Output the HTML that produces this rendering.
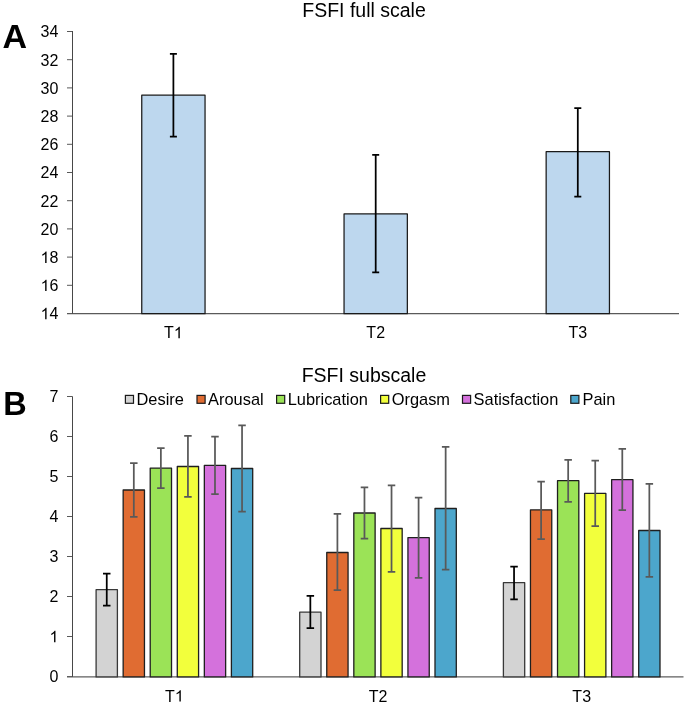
<!DOCTYPE html><html><head><meta charset="utf-8"><style>html,body{margin:0;padding:0;background:#fff;width:685px;height:704px;overflow:hidden}svg{display:block;will-change:transform}text{font-family:"Liberation Sans",sans-serif}</style></head><body>
<svg width="685" height="704" viewBox="0 0 685 704">
<rect width="685" height="704" fill="#fff"/>
<text x="364" y="17.2" font-size="19.5" text-anchor="middle" fill="#000">FSFI full scale</text>
<text x="2.5" y="48.3" font-size="34" font-weight="bold" fill="#000">A</text>
<line x1="67" y1="313.5" x2="72.5" y2="313.5" stroke="#595959" stroke-width="1"/>
<path d="M46.56 319.30H45.16V310.34Q44.65 310.82 43.82 311.31Q42.99 311.79 42.34 312.03V310.68Q43.52 310.12 44.40 309.33Q45.28 308.54 45.65 307.85H46.56Z" fill="#000"/><text x="49.50" y="319.30" font-size="16" fill="#000">4</text>
<line x1="67" y1="285.3" x2="72.5" y2="285.3" stroke="#595959" stroke-width="1"/>
<path d="M46.56 291.10H45.16V282.14Q44.65 282.62 43.82 283.11Q42.99 283.59 42.34 283.83V282.48Q43.52 281.92 44.40 281.13Q45.28 280.34 45.65 279.65H46.56Z" fill="#000"/><text x="49.50" y="291.10" font-size="16" fill="#000">6</text>
<line x1="67" y1="257.1" x2="72.5" y2="257.1" stroke="#595959" stroke-width="1"/>
<path d="M46.56 262.90H45.16V253.94Q44.65 254.42 43.82 254.91Q42.99 255.39 42.34 255.63V254.28Q43.52 253.72 44.40 252.93Q45.28 252.14 45.65 251.45H46.56Z" fill="#000"/><text x="49.50" y="262.90" font-size="16" fill="#000">8</text>
<line x1="67" y1="228.9" x2="72.5" y2="228.9" stroke="#595959" stroke-width="1"/>
<text x="40.60" y="234.70" font-size="16" fill="#000">20</text>
<line x1="67" y1="200.7" x2="72.5" y2="200.7" stroke="#595959" stroke-width="1"/>
<text x="40.60" y="206.50" font-size="16" fill="#000">22</text>
<line x1="67" y1="172.5" x2="72.5" y2="172.5" stroke="#595959" stroke-width="1"/>
<text x="40.60" y="178.30" font-size="16" fill="#000">24</text>
<line x1="67" y1="144.3" x2="72.5" y2="144.3" stroke="#595959" stroke-width="1"/>
<text x="40.60" y="150.10" font-size="16" fill="#000">26</text>
<line x1="67" y1="116.1" x2="72.5" y2="116.1" stroke="#595959" stroke-width="1"/>
<text x="40.60" y="121.90" font-size="16" fill="#000">28</text>
<line x1="67" y1="87.9" x2="72.5" y2="87.9" stroke="#595959" stroke-width="1"/>
<text x="40.60" y="93.70" font-size="16" fill="#000">30</text>
<line x1="67" y1="59.70000000000002" x2="72.5" y2="59.70000000000002" stroke="#595959" stroke-width="1"/>
<text x="40.60" y="65.50" font-size="16" fill="#000">32</text>
<line x1="67" y1="31.5" x2="72.5" y2="31.5" stroke="#595959" stroke-width="1"/>
<text x="40.60" y="37.30" font-size="16" fill="#000">34</text>
<line x1="67" y1="313.65" x2="679" y2="313.65" stroke="#5a5a5a" stroke-width="1.2"/>
<rect x="141.75" y="95.23" width="63.30" height="218.42" fill="#BDD7EE" stroke="#1a1a1a" stroke-width="1.25" stroke-linejoin="round"/>
<text x="164.06" y="338.30" font-size="16" fill="#000">T</text><path d="M179.80 338.30H178.39V329.34Q177.88 329.82 177.06 330.31Q176.23 330.79 175.57 331.03V329.68Q176.75 329.12 177.63 328.33Q178.52 327.54 178.88 326.85H179.80Z" fill="#000"/>
<rect x="344.05" y="213.95" width="63.30" height="99.70" fill="#BDD7EE" stroke="#1a1a1a" stroke-width="1.25" stroke-linejoin="round"/>
<text x="366.36" y="338.30" font-size="16" fill="#000">T2</text>
<rect x="546.15" y="151.63" width="63.30" height="162.02" fill="#BDD7EE" stroke="#1a1a1a" stroke-width="1.25" stroke-linejoin="round"/>
<text x="568.46" y="338.30" font-size="16" fill="#000">T3</text>
<line x1="72.5" y1="31" x2="72.5" y2="313.65" stroke="#474747" stroke-width="1"/>
<path d="M173.4 53.78 V136.54 M169.9 53.78 H176.9 M169.9 136.54 H176.9" stroke="#000" stroke-width="1.75" fill="none"/>
<path d="M375.7 154.88 V272.33 M372.2 154.88 H379.2 M372.2 272.33 H379.2" stroke="#000" stroke-width="1.75" fill="none"/>
<path d="M577.8 108.06 V196.61 M574.3 108.06 H581.3 M574.3 196.61 H581.3" stroke="#000" stroke-width="1.75" fill="none"/>
<text x="364" y="381.6" font-size="19.5" text-anchor="middle" fill="#000">FSFI subscale</text>
<text transform="translate(3.3,415) scale(0.955,1)" font-size="34" font-weight="bold" fill="#000">B</text>
<line x1="67" y1="676.5" x2="72.5" y2="676.5" stroke="#595959" stroke-width="1"/>
<text x="49.50" y="682.30" font-size="16" fill="#000">0</text>
<line x1="67" y1="636.5" x2="72.5" y2="636.5" stroke="#595959" stroke-width="1"/>
<path d="M55.46 642.30H54.06V633.34Q53.55 633.82 52.72 634.31Q51.89 634.79 51.24 635.03V633.67Q52.42 633.12 53.30 632.33Q54.18 631.54 54.55 630.85H55.46Z" fill="#000"/>
<line x1="67" y1="596.5" x2="72.5" y2="596.5" stroke="#595959" stroke-width="1"/>
<text x="49.50" y="602.30" font-size="16" fill="#000">2</text>
<line x1="67" y1="556.5" x2="72.5" y2="556.5" stroke="#595959" stroke-width="1"/>
<text x="49.50" y="562.30" font-size="16" fill="#000">3</text>
<line x1="67" y1="516.5" x2="72.5" y2="516.5" stroke="#595959" stroke-width="1"/>
<text x="49.50" y="522.30" font-size="16" fill="#000">4</text>
<line x1="67" y1="476.5" x2="72.5" y2="476.5" stroke="#595959" stroke-width="1"/>
<text x="49.50" y="482.30" font-size="16" fill="#000">5</text>
<line x1="67" y1="436.5" x2="72.5" y2="436.5" stroke="#595959" stroke-width="1"/>
<text x="49.50" y="442.30" font-size="16" fill="#000">6</text>
<line x1="67" y1="396.5" x2="72.5" y2="396.5" stroke="#595959" stroke-width="1"/>
<text x="49.50" y="402.30" font-size="16" fill="#000">7</text>
<rect x="125.4" y="395.4" width="8.1" height="7.9" fill="#D3D3D3" stroke="#1a1a1a" stroke-width="1.2"/>
<text transform="translate(136.50,405.0) scale(1.025,1)" font-size="16" fill="#000">Desire</text>
<rect x="197.0" y="395.4" width="8.1" height="7.9" fill="#E06C32" stroke="#1a1a1a" stroke-width="1.2"/>
<text transform="translate(208.10,405.0) scale(1.025,1)" font-size="16" fill="#000">Arousal</text>
<rect x="276.6" y="395.4" width="8.1" height="7.9" fill="#9BE357" stroke="#1a1a1a" stroke-width="1.2"/>
<text transform="translate(287.70,405.0) scale(1.025,1)" font-size="16" fill="#000">Lubrication</text>
<rect x="380.6" y="395.4" width="8.1" height="7.9" fill="#F2FF3C" stroke="#1a1a1a" stroke-width="1.2"/>
<text transform="translate(391.70,405.0) scale(1.025,1)" font-size="16" fill="#000">Orgasm</text>
<rect x="462.5" y="395.4" width="8.1" height="7.9" fill="#D471DC" stroke="#1a1a1a" stroke-width="1.2"/>
<text transform="translate(473.60,405.0) scale(1.025,1)" font-size="16" fill="#000">Satisfaction</text>
<rect x="570.8" y="395.4" width="8.1" height="7.9" fill="#4CA6CC" stroke="#1a1a1a" stroke-width="1.2"/>
<text transform="translate(582.50,405.0) scale(1.025,1)" font-size="16" fill="#000">Pain</text>
<line x1="67" y1="676.9" x2="683.5" y2="676.9" stroke="#5f5f5f" stroke-width="1.3"/>
<rect x="96.10" y="589.70" width="21.3" height="87.20" fill="#D3D3D3" stroke="#383838" stroke-width="1.3" stroke-linejoin="round"/>
<rect x="123.16" y="489.98" width="21.3" height="186.92" fill="#E06C32" stroke="#1f1f1f" stroke-width="1.3" stroke-linejoin="round"/>
<rect x="150.22" y="468.10" width="21.3" height="208.80" fill="#9BE357" stroke="#1f1f1f" stroke-width="1.3" stroke-linejoin="round"/>
<rect x="177.28" y="466.50" width="21.3" height="210.40" fill="#F2FF3C" stroke="#1f1f1f" stroke-width="1.3" stroke-linejoin="round"/>
<rect x="204.34" y="465.30" width="21.3" height="211.60" fill="#D471DC" stroke="#1f1f1f" stroke-width="1.3" stroke-linejoin="round"/>
<rect x="231.40" y="468.50" width="21.3" height="208.40" fill="#4CA6CC" stroke="#1f1f1f" stroke-width="1.3" stroke-linejoin="round"/>
<text x="165.06" y="701.60" font-size="16" fill="#000">T</text><path d="M180.80 701.60H179.39V692.64Q178.88 693.12 178.06 693.61Q177.23 694.09 176.57 694.33V692.98Q177.75 692.42 178.63 691.63Q179.52 690.84 179.88 690.15H180.80Z" fill="#000"/>
<rect x="299.70" y="612.18" width="21.3" height="64.72" fill="#D3D3D3" stroke="#383838" stroke-width="1.3" stroke-linejoin="round"/>
<rect x="326.76" y="552.50" width="21.3" height="124.40" fill="#E06C32" stroke="#1f1f1f" stroke-width="1.3" stroke-linejoin="round"/>
<rect x="353.82" y="512.98" width="21.3" height="163.92" fill="#9BE357" stroke="#1f1f1f" stroke-width="1.3" stroke-linejoin="round"/>
<rect x="380.88" y="528.50" width="21.3" height="148.40" fill="#F2FF3C" stroke="#1f1f1f" stroke-width="1.3" stroke-linejoin="round"/>
<rect x="407.94" y="537.70" width="21.3" height="139.20" fill="#D471DC" stroke="#1f1f1f" stroke-width="1.3" stroke-linejoin="round"/>
<rect x="435.00" y="508.50" width="21.3" height="168.40" fill="#4CA6CC" stroke="#1f1f1f" stroke-width="1.3" stroke-linejoin="round"/>
<text x="368.66" y="701.60" font-size="16" fill="#000">T2</text>
<rect x="503.40" y="582.70" width="21.3" height="94.20" fill="#D3D3D3" stroke="#383838" stroke-width="1.3" stroke-linejoin="round"/>
<rect x="530.46" y="509.90" width="21.3" height="167.00" fill="#E06C32" stroke="#1f1f1f" stroke-width="1.3" stroke-linejoin="round"/>
<rect x="557.52" y="480.70" width="21.3" height="196.20" fill="#9BE357" stroke="#1f1f1f" stroke-width="1.3" stroke-linejoin="round"/>
<rect x="584.58" y="493.38" width="21.3" height="183.52" fill="#F2FF3C" stroke="#1f1f1f" stroke-width="1.3" stroke-linejoin="round"/>
<rect x="611.64" y="479.70" width="21.3" height="197.20" fill="#D471DC" stroke="#1f1f1f" stroke-width="1.3" stroke-linejoin="round"/>
<rect x="638.70" y="530.50" width="21.3" height="146.40" fill="#4CA6CC" stroke="#1f1f1f" stroke-width="1.3" stroke-linejoin="round"/>
<text x="572.36" y="701.60" font-size="16" fill="#000">T3</text>
<line x1="72.5" y1="396.5" x2="72.5" y2="676.9" stroke="#474747" stroke-width="1"/>
<path d="M106.75 573.70 V605.70 M103.00 573.70 H110.50 M103.00 605.70 H110.50" stroke="#000" stroke-width="1.75" fill="none"/>
<path d="M133.81 463.18 V516.78 M130.06 463.18 H137.56 M130.06 516.78 H137.56" stroke="#595959" stroke-width="1.75" fill="none"/>
<path d="M160.87 448.22 V488.10 M157.12 448.22 H164.62 M157.12 488.10 H164.62" stroke="#595959" stroke-width="1.75" fill="none"/>
<path d="M187.93 435.82 V496.90 M184.18 435.82 H191.68 M184.18 496.90 H191.68" stroke="#595959" stroke-width="1.75" fill="none"/>
<path d="M214.99 436.50 V494.22 M211.24 436.50 H218.74 M211.24 494.22 H218.74" stroke="#595959" stroke-width="1.75" fill="none"/>
<path d="M242.05 425.30 V511.70 M238.30 425.30 H245.80 M238.30 511.70 H245.80" stroke="#595959" stroke-width="1.75" fill="none"/>
<path d="M310.35 595.90 V628.18 M306.60 595.90 H314.10 M306.60 628.18 H314.10" stroke="#000" stroke-width="1.75" fill="none"/>
<path d="M337.41 513.90 V590.18 M333.66 513.90 H341.16 M333.66 590.18 H341.16" stroke="#595959" stroke-width="1.75" fill="none"/>
<path d="M364.47 487.38 V538.58 M360.72 487.38 H368.22 M360.72 538.58 H368.22" stroke="#595959" stroke-width="1.75" fill="none"/>
<path d="M391.53 485.30 V571.98 M387.78 485.30 H395.28 M387.78 571.98 H395.28" stroke="#595959" stroke-width="1.75" fill="none"/>
<path d="M418.59 497.70 V577.98 M414.84 497.70 H422.34 M414.84 577.98 H422.34" stroke="#595959" stroke-width="1.75" fill="none"/>
<path d="M445.65 446.98 V569.70 M441.90 446.98 H449.40 M441.90 569.70 H449.40" stroke="#595959" stroke-width="1.75" fill="none"/>
<path d="M514.05 566.50 V599.30 M510.30 566.50 H517.80 M510.30 599.30 H517.80" stroke="#000" stroke-width="1.75" fill="none"/>
<path d="M541.11 481.50 V539.10 M537.36 481.50 H544.86 M537.36 539.10 H544.86" stroke="#595959" stroke-width="1.75" fill="none"/>
<path d="M568.17 459.90 V501.90 M564.42 459.90 H571.92 M564.42 501.90 H571.92" stroke="#595959" stroke-width="1.75" fill="none"/>
<path d="M595.23 460.70 V526.10 M591.48 460.70 H598.98 M591.48 526.10 H598.98" stroke="#595959" stroke-width="1.75" fill="none"/>
<path d="M622.29 448.98 V510.18 M618.54 448.98 H626.04 M618.54 510.18 H626.04" stroke="#595959" stroke-width="1.75" fill="none"/>
<path d="M649.35 483.90 V576.78 M645.60 483.90 H653.10 M645.60 576.78 H653.10" stroke="#595959" stroke-width="1.75" fill="none"/>
</svg></body></html>
